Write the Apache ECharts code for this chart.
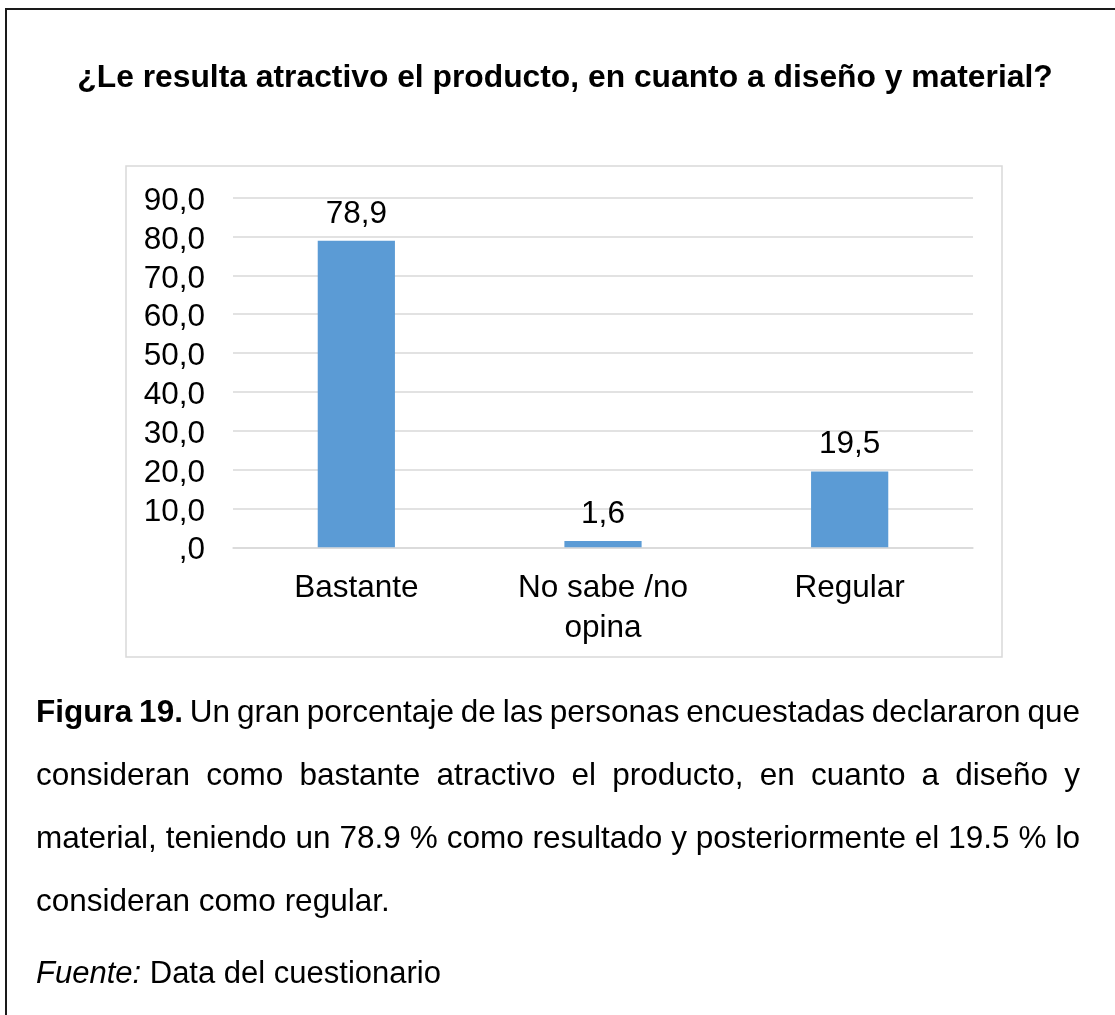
<!DOCTYPE html>
<html>
<head>
<meta charset="utf-8">
<script src="https://cdn.jsdelivr.net/npm/echarts@6/dist/echarts.min.js"></script>
<style>
  html, body { margin: 0; padding: 0; background: #fff; }
  #wrap { position: relative; width: 1115px; height: 1015px; overflow: hidden; font-family: "Liberation Sans", Arial, sans-serif; color: #000; }
  #frame { position: absolute; left: 5px; top: 8px; width: 1200px; height: 1200px; border-top: 2px solid #1a1a1a; border-left: 2px solid #1a1a1a; }
  #chart { position: absolute; left: 0; top: 0; width: 1115px; height: 1015px; }
  #caption { position: absolute; left: 36px; top: 680px; width: 1044px; font-size: 31.5px; line-height: 63px; }
  #caption div { text-align: justify; text-align-last: justify; white-space: nowrap; word-spacing: -3px; }
  #caption div.last { text-align-last: left; word-spacing: 0; }
  #source { position: absolute; left: 36px; top: 952px; font-size: 31px; line-height: 42px; }
</style>
</head>
<body>
<div id="wrap">
  <div id="frame"></div>
  <div id="chart"></div>
  <div id="caption">
    <div><b>Figura 19.</b> Un gran porcentaje de las personas encuestadas declararon que</div>
    <div>consideran como bastante atractivo el producto, en cuanto a diseño y</div>
    <div>material, teniendo un 78.9 % como resultado y posteriormente el 19.5 % lo</div>
    <div class="last">consideran como regular.</div>
  </div>
  <div id="source"><i>Fuente:</i> Data del cuestionario</div>
</div>
<script>
const titleText = "¿Le resulta atractivo el producto, en cuanto a diseño y material?";
const categories = ["Bastante", "No sabe /no\nopina", "Regular"];
const values = [78.9, 1.6, 19.5];
const yMin = 0, yMax = 90, yStep = 10;

function fmt(v) {
  if (v === 0) return ",0";
  return v.toFixed(1).replace(".", ",");
}

const chart = echarts.init(document.getElementById("chart"), null, { renderer: "canvas" });
const font = "Liberation Sans";
chart.setOption({
  animation: false,
  graphic: [
    { type: "rect", shape: { x: 126, y: 166, width: 876, height: 491 }, style: { fill: "none", stroke: "#d9d9d9", lineWidth: 1.5 }, silent: true },
    { type: "text", x: 565, y: 78, style: { text: titleText, fontFamily: font, fontWeight: "bold", fontSize: 31.8, fill: "#000", textAlign: "center", textVerticalAlign: "middle" } }
  ],
  grid: { left: 233, right: 142, top: 197.7, bottom: 467.7, containLabel: false },
  xAxis: {
    type: "category",
    data: categories,
    axisLine: { show: true, lineStyle: { color: "#d9d9d9", width: 1.5 } },
    axisTick: { show: false },
    axisLabel: { fontFamily: font, fontSize: 31.5, color: "#000", margin: 21, lineHeight: 40, interval: 0 }
  },
  yAxis: {
    type: "value",
    min: yMin, max: yMax, interval: yStep,
    axisLine: { show: false },
    axisTick: { show: false },
    splitLine: { lineStyle: { color: "#d9d9d9", width: 1.5 } },
    axisLabel: {
      fontFamily: font, fontSize: 31.5, color: "#000", margin: 28,
      formatter: v => "{v|" + fmt(v) + "}",
      rich: { v: { fontFamily: font, fontSize: 31.5, color: "#000", padding: [7, 0, 0, 0] } }
    }
  },
  series: [{
    type: "bar",
    data: values,
    barWidth: "31.3%",
    itemStyle: { color: "#5b9bd5" },
    label: { show: true, position: "top", distance: 11, fontFamily: font, fontSize: 31.5, color: "#000", formatter: p => fmt(p.value) }
  }]
});
</script>
</body>
</html>
